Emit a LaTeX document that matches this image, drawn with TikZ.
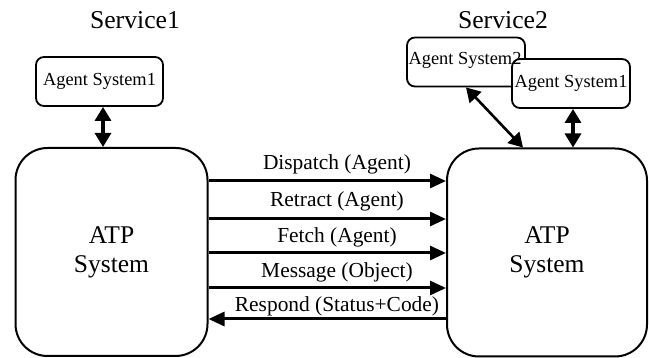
\documentclass[tikz,border=0pt]{standalone}
\usepackage{fontspec}
\setmainfont{Liberation Serif}
\usetikzlibrary{arrows.meta}
\begin{document}
\begin{tikzpicture}[x=1pt,y=-1pt,
  atpbox/.style={draw,line width=2pt,rounded corners=32pt,minimum width=#1,minimum height=208pt,
    inner sep=0pt,align=center,font=\fontsize{25.5}{29}\selectfont},
  agentbox/.style={draw,line width=1.8pt,rounded corners=8pt,minimum width=#1,minimum height=49pt,
    inner sep=0pt,font=\fontsize{18.4}{21}\selectfont},
  svc/.style={font=\fontsize{25.7}{29}\selectfont},
  msg/.style={font=\fontsize{21.4}{24}\selectfont,inner sep=0pt},
  flow/.style={line width=3pt,-{Triangle[length=16pt,width=14pt]}},
  link/.style={line width=3.2pt,{Triangle[length=14pt,width=16pt]}-{Triangle[length=14pt,width=16pt]}}
]
\useasboundingbox (0,0) rectangle (649,358);

% service titles
\node[svc] (s1) at (135,20) {Service1};
\node[svc] (s2) at (503,20) {Service2};

% ATP systems
\node[atpbox=192pt] (atp1) at (111.5,252) {ATP\\System};
\node[atpbox=200pt] (atp2) at (547,252.5) {ATP\\System};

% agent systems
\node[agentbox=127pt] (ag1) at (99.5,81.5) {Agent System1};
\node[agentbox=118pt] (ag2) at (466,62) {};
\node[agentbox=118pt,fill=white] (ag3) at (571,83.5) {Agent System1};
\node[font=\fontsize{18.4}{21}\selectfont,inner sep=0pt] (ag2t) at (465,60) {Agent System2};

% agent <-> ATP links
\draw[link] (ag1.south -| 103,0) -- (atp1.north -| 103,0);
\draw[link,line width=2.6pt] (ag2.south) -- (atp2.north -| 523,0);
\draw[link] (ag3.south -| 573,0) -- (atp2.north -| 573,0);

% messages between the two ATP systems
\draw[flow] (atp1.east |- 0,181) -- (atp2.west |- 0,181);
\draw[flow] (atp1.east |- 0,219) -- (atp2.west |- 0,219);
\draw[flow] (atp1.east |- 0,253) -- (atp2.west |- 0,253);
\draw[flow] (atp1.east |- 0,288) -- (atp2.west |- 0,288);
\draw[flow] (atp2.west |- 0,319) -- (atp1.east |- 0,319);

\node[msg] (m1) at (337,164) {Dispatch (Agent)};
\node[msg] (m2) at (337,201) {Retract (Agent)};
\node[msg] (m3) at (337,237) {Fetch (Agent)};
\node[msg] (m4) at (337,272) {Message (Object)};
\node[msg] (m5) at (337,306) {Respond (Status+Code)};
\end{tikzpicture}
\end{document}
